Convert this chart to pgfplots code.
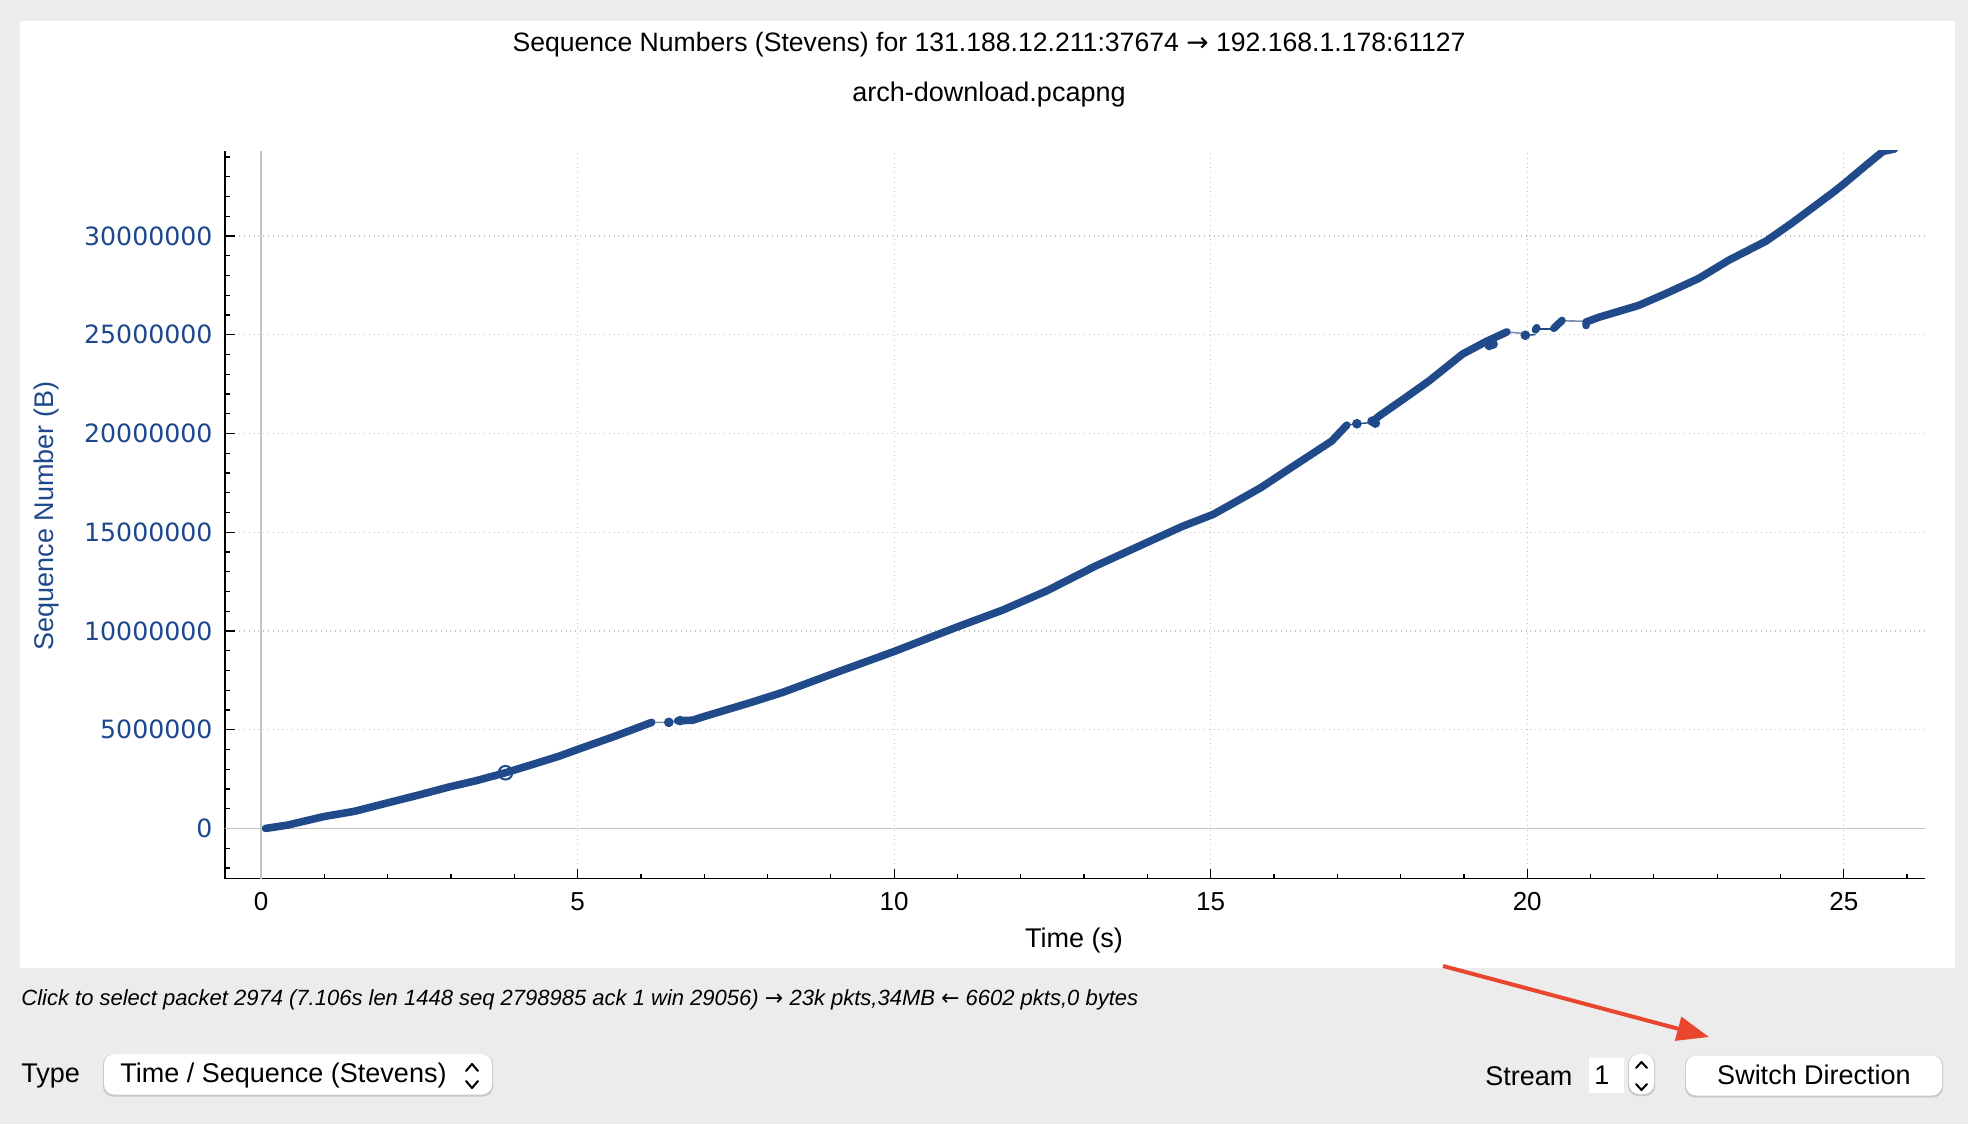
\documentclass[border=0pt]{standalone}
\usepackage{pgfplots}
\pgfplotsset{compat=1.18}
\usepackage{fontspec}
\setmainfont{Liberation Sans}
\newfontfamily\dejavu{DejaVu Sans}
\usetikzlibrary{arrows.meta}
\definecolor{bg}{HTML}{ECECEC}
\definecolor{seqblue}{RGB}{32,74,137}
\definecolor{tickblue}{RGB}{30,72,140}
\definecolor{gridgray}{HTML}{C4C4C4}
\definecolor{thinblue}{RGB}{125,145,180}
\definecolor{arrowred}{RGB}{232,70,45}
\definecolor{shadow}{HTML}{C9C9C9}
\begin{document}
\begin{tikzpicture}[x=0.5pt,y=0.5pt]
\fill[bg] (0,0) rectangle (1968,1124);
\fill[white] (20,156) rectangle (1955,1103);
% titles
\node[font=\fontsize{13.3}{16}\selectfont] at (989,1079) {Sequence Numbers (Stevens) for 131.188.12.211:37674 {\dejavu →} 192.168.1.178:61127};
\node[font=\fontsize{13.5}{16}\selectfont] at (989,1029) {arch-download.pcapng};
\begin{axis}[
  at={(112.35pt,122.7pt)}, anchor=south west,
  scale only axis, width=850.35pt, height=364pt,
  xmin=-0.575, xmax=26.29, ymin=-2540000, ymax=34320000,
  axis x line=bottom, axis y line=left,
  axis line style={-, black, line width=0.8pt},
  xtick={0,5,10,15,20,25}, xticklabels={0,5,10,15,20,25},
  minor xtick={1,2,3,4,6,7,8,9,11,12,13,14,16,17,18,19,21,22,23,24,26},
  ytick={0,5000000,10000000,15000000,20000000,25000000,30000000},
  yticklabels={0,5000000,10000000,15000000,20000000,25000000,30000000},
  minor ytick={-2000000,-1000000,1000000,2000000,3000000,4000000,6000000,7000000,8000000,9000000,11000000,12000000,13000000,14000000,16000000,17000000,18000000,19000000,21000000,22000000,23000000,24000000,26000000,27000000,28000000,29000000,31000000,32000000,33000000,34000000},
  scaled y ticks=false,
  tick align=inside,
  major tick length=5pt, minor tick length=2.5pt,
  tick style={black, line width=0.6pt},
  grid=major, major grid style={dotted, gridgray, line width=0.6pt},
  /pgf/number format/assume math mode=true,
  xticklabel style={font=\fontsize{13}{15}\selectfont, yshift=-3.5pt},
  yticklabel style={font=\dejavu\fontsize{12.6}{14}\selectfont, text=tickblue, xshift=-2.6pt},
]
\draw[gridgray, line width=0.8pt] (axis cs:0,-2540000) -- (axis cs:0,34320000);
\draw[gridgray, line width=0.8pt] (axis cs:-0.575,0) -- (axis cs:26.29,0);
% thin connecting lines
\addplot[thinblue, line width=0.8pt] coordinates {(6.17,5370000) (6.44,5370000) (6.58,5450000)};
\addplot[seqblue, line width=0.7pt] coordinates {(17.15,20420000) (17.31,20490000) (17.55,20550000)};
\addplot[thinblue, line width=0.8pt] coordinates {(19.68,25140000) (19.97,25050000)};
\addplot[seqblue, line width=0.7pt] coordinates {(19.97,24970000) (20.13,25000000)};
\addplot[seqblue, line width=0.7pt] coordinates {(20.14,25290000) (20.42,25290000)};
\addplot[thinblue, line width=0.8pt] coordinates {(20.55,25700000) (20.93,25680000)};
% dense segments
\addplot[seqblue, line width=3.8pt, line cap=round, line join=round] coordinates {
(0.07,0) (0.42,170000) (0.99,600000) (1.48,870000) (1.98,1280000) (2.5,1700000)
(2.97,2100000) (3.4,2420000) (3.86,2820000) (4.3,3250000) (4.70,3650000)
(5.0,4000000) (5.6,4680000) (6.17,5370000)};
\addplot[seqblue, line width=3.8pt, line cap=round, line join=round] coordinates {
(6.58,5450000) (6.82,5480000) (6.97,5640000) (7.74,6380000) (8.24,6890000)
(9.09,7900000) (10.0,8960000) (10.68,9810000) (11.07,10290000) (11.71,11050000)
(12.41,12030000) (13.19,13300000) (13.9,14340000) (14.55,15290000) (15.04,15900000)
(15.43,16600000) (15.79,17250000) (16.12,17950000) (16.5,18750000) (16.91,19610000) (17.15,20420000)};
\addplot[seqblue, line width=3.8pt, line cap=round, line join=round] coordinates {
(17.55,20580000) (17.66,20880000) (18.05,21750000) (18.45,22660000) (18.98,24020000) (19.35,24650000)
(19.68,25140000)};
\addplot[seqblue, line width=3.8pt, line cap=round, line join=round] coordinates {
(20.13,25240000) (20.15,25350000)};
\addplot[seqblue, line width=3.8pt, line cap=round, line join=round] coordinates {
(20.42,25320000) (20.55,25720000)};
\addplot[seqblue, line width=3.8pt, line cap=round, line join=round] coordinates {
(20.93,25460000) (20.93,25640000) (21.13,25880000) (21.76,26480000) (22.19,27080000)
(22.71,27850000) (23.19,28780000) (23.77,29730000) (24.19,30670000) (24.83,32200000)
(25.0,32630000) (25.35,33570000) (25.62,34280000) (25.8,34400000)};
% isolated packets
\addplot[only marks, mark=*, mark size=2.2pt, seqblue] coordinates {
(6.44,5370000) (6.62,5460000) (17.31,20490000) (17.55,20620000) (17.6,20520000)
(19.40,24450000) (19.46,24520000) (19.97,24970000) (25.7,34330000)};
% selected packet
\addplot[only marks, mark=o, mark size=3.4pt, mark options={line width=1pt}, seqblue] coordinates {(3.86,2820000)};
\end{axis}
% axis labels
\node[font=\fontsize{13.5}{16}\selectfont] at (1074,183) {Time (s)};
\node[font=\fontsize{13.5}{16}\selectfont, text=tickblue, rotate=90] at (47,608) {Sequence Number (B)};
% status line
\node[anchor=west, inner sep=0pt, font=\itshape\fontsize{11}{13}\selectfont] at (21,124)
  {Click to select packet 2974 (7.106s len 1448 seq 2798985 ack 1 win 29056) {\dejavu\itshape →} 23k pkts,34MB {\dejavu\itshape ←} 6602 pkts,0 bytes};
% controls
\node[anchor=west, inner sep=0pt, font=\fontsize{13.5}{16}\selectfont] at (21,48) {Type};
\fill[shadow, rounded corners=5pt] (103,27.5) rectangle (493,70);
\fill[white, rounded corners=5pt] (104,29.5) rectangle (492,70);
\node[anchor=west, inner sep=0pt, font=\fontsize{13.5}{16}\selectfont] at (120,48) {Time / Sequence (Stevens)};
\draw[black, line width=1pt, line cap=round, line join=round] (466,53) -- (472,60) -- (478,53);
\draw[black, line width=1pt, line cap=round, line join=round] (466,43) -- (472,36) -- (478,43);
\node[anchor=west, inner sep=0pt, font=\fontsize{13.5}{16}\selectfont] at (1485,48) {Stream};
\fill[white] (1589,31) rectangle (1624,66);
\node[anchor=west, inner sep=0pt, font=\fontsize{13.5}{16}\selectfont] at (1594,49) {1};
\fill[shadow, rounded corners=5pt] (1628,28) rectangle (1655,70);
\fill[white, rounded corners=5pt] (1629,30) rectangle (1654,70);
\draw[black, line width=1pt, line cap=round, line join=round] (1636,56) -- (1641.5,62) -- (1647,56);
\draw[black, line width=1pt, line cap=round, line join=round] (1636,40) -- (1641.5,34) -- (1647,40);
\fill[shadow, rounded corners=5pt] (1685,26.5) rectangle (1943,68.5);
\fill[white, rounded corners=5pt] (1686,28.5) rectangle (1942,68.5);
\node[font=\fontsize{13.5}{16}\selectfont] at (1814,49) {Switch Direction};
% red arrow
\draw[arrowred, line width=2pt, -{Triangle[length=16pt, width=12pt]}] (1443,158) -- (1709,87);
\pgfresetboundingbox
\path[use as bounding box] (0,0) rectangle (1968,1124);
\end{tikzpicture}
\end{document}
